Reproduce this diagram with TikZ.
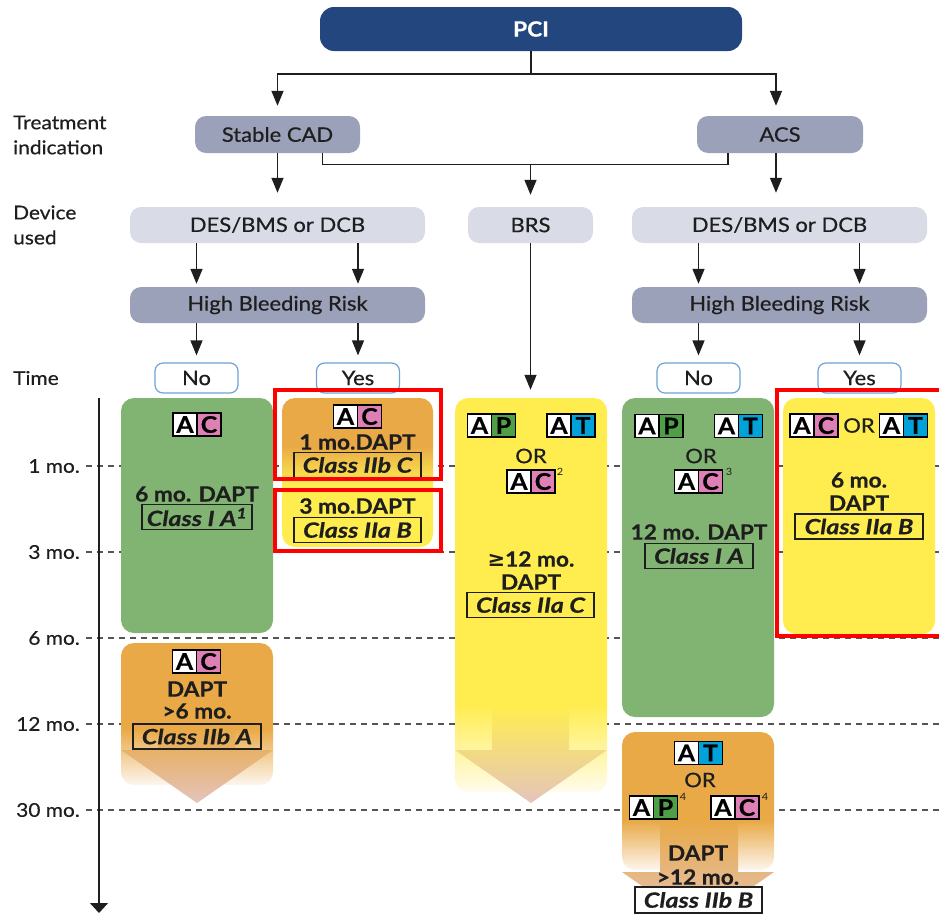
\documentclass[tikz,border=0pt]{standalone}
\usepackage{fontspec}
\setmainfont{Lato}[FakeStretch=1.1]
\newfontfamily\medfam{Lato}[FakeStretch=1.1, FakeBold=0.5]
\newfontfamily\heavyfam{Lato}[FakeStretch=1.08, FakeBold=0.6]
\newfontfamily\clsfam{Lato}[FakeStretch=1.2, FakeBold=0.5]
\newfontfamily\symf{DejaVu Sans}
\usetikzlibrary{arrows.meta,calc}
\definecolor{txt}{HTML}{1E1E1E}
\definecolor{pciblue}{HTML}{23467F}
\definecolor{greybox}{HTML}{9CA1BA}
\definecolor{lightbox}{HTML}{D9DBE7}
\definecolor{nyborder}{HTML}{6FA3D4}
\definecolor{dgreen}{HTML}{81B473}
\definecolor{dorange}{HTML}{E8A946}
\definecolor{dyellow}{HTML}{FFED50}
\definecolor{cpink}{HTML}{DE7FB5}
\definecolor{pgreen}{HTML}{4E9F45}
\definecolor{tcyan}{HTML}{00A2D9}
\definecolor{tippink}{HTML}{E4C4BC}
\definecolor{dashgray}{HTML}{555555}
\definecolor{fadey}{HTML}{FFFCEC}
\definecolor{fadeo}{HTML}{FDF6EE}
\pgfdeclareverticalshading{oyshade}{100bp}{color(0bp)=(dyellow); color(46bp)=(dyellow); color(59bp)=(dorange); color(100bp)=(dorange)}
\pgfdeclareverticalshading{yfade}{100bp}{color(0bp)=(white); color(25bp)=(fadey); color(36bp)=(dyellow); color(100bp)=(dyellow)}
\pgfdeclareverticalshading{ofadeL}{100bp}{color(0bp)=(white); color(25bp)=(fadeo); color(45bp)=(dorange); color(100bp)=(dorange)}
\pgfdeclareverticalshading{ofadeR}{100bp}{color(0bp)=(white); color(25bp)=(fadeo); color(43bp)=(dorange); color(100bp)=(dorange)}
\pgfdeclareverticalshading{arrL}{100bp}{color(0bp)=(tippink); color(25bp)=(tippink); color(51bp)=(dorange); color(100bp)=(dorange)}
\pgfdeclareverticalshading{arrM}{100bp}{color(0bp)=(tippink); color(25bp)=(tippink); color(58bp)=(dyellow); color(100bp)=(dyellow)}
\pgfdeclareverticalshading{arrR}{100bp}{color(0bp)=(tippink); color(25bp)=(tippink); color(61bp)=(dorange); color(100bp)=(dorange)}
\newcommand\sidef{\medfam\fontsize{19}{25}\selectfont}
\newcommand\lblf{\medfam\fontsize{20}{25}\selectfont}
\newcommand\orlf{\medfam\fontsize{20}{22}\selectfont}
\newcommand\bigf{\heavyfam\fontsize{21}{23}\selectfont\bfseries}
\newcommand\clsf{\clsfam\fontsize{21}{22}\selectfont\bfseries\itshape}
\newcommand\bdgf{\heavyfam\fontsize{23}{23}\selectfont\bfseries}
\newcommand\supf{\fontsize{10}{10}\selectfont}
\newcommand\pcif{\heavyfam\fontsize{21}{24}\selectfont\bfseries}
\begin{document}
\begin{tikzpicture}[x=1pt,y=-1pt,
  every node/.style={text=txt},
  conn/.style={line width=1.4pt, draw=txt},
  arr/.style={conn, -{Triangle[length=15pt,width=12pt]}},
  hdbox/.style={fill=greybox, rounded corners=11pt, minimum height=37pt, inner sep=0pt, font=\lblf},
  devbox/.style={fill=lightbox, rounded corners=11pt, minimum height=36pt, inner sep=0pt, font=\lblf},
  ynbox/.style={draw=nyborder, line width=1.2pt, fill=white, rounded corners=8pt, minimum width=83pt, minimum height=30pt, inner sep=0pt, font=\lblf},
  bigt/.style={font=\bigf, inner sep=0pt},
  orf/.style={font=\orlf, inner sep=0pt},
  cls/.style={draw=txt, line width=1.3pt, font=\clsf, minimum height=25pt, inner sep=0pt},
  supn/.style={font=\supf, inner sep=0pt},
  bcell/.style={draw=black, line width=1.2pt, minimum width=24pt, minimum height=23pt, inner sep=0pt, font=\bdgf, text=black},
  tickl/.style={anchor=east, font=\sidef, inner sep=0pt},
  tline/.style={dash pattern=on 6pt off 5pt, line width=1.2pt, draw=dashgray},
  redfr/.style={draw=red, line width=4pt},
  colbox/.style={rounded corners=13pt, minimum width=152pt, inner sep=0pt},
  pics/badge/.style 2 args={code={
    \node[bcell, fill=white] (-a) at (-12,0) {A};
    \node[bcell, fill=#1] (-b) at (12,0) {#2};}}
]
\useasboundingbox (0,0) rectangle (939,913);

% ---- side labels
\node[anchor=west, align=left, font=\sidef, inner sep=0pt] (lbltreat) at (13,135) {Treatment\\indication};
\node[anchor=west, align=left, font=\sidef, inner sep=0pt] (lbldev) at (13,225) {Device\\used};
\node[anchor=west, font=\sidef, inner sep=0pt] (lbltime) at (13,378) {Time};

% ---- time ticks and dashed lines
\node[tickl] (tk1) at (80,466) {1 mo.};
\node[tickl] (tk3) at (80,552) {3 mo.};
\node[tickl] (tk6) at (80,638) {6 mo.};
\node[tickl] (tk12) at (80,724) {12 mo.};
\node[tickl] (tk30) at (80,810) {30 mo.};
\foreach \nm in {tk1,tk3,tk6,tk12,tk30}{
  \draw[tline] ([xshift=6pt]\nm.east) -- (\nm.east -| 939,0);
}
\coordinate (axtop) at (99,398);
\coordinate (axbot) at (99,913);
\draw[line width=1.5pt, draw=txt, -{Triangle[length=10pt,width=18pt]}] (axtop) -- (axbot);

% ---- top flow
\node[fill=pciblue, rounded corners=14pt, minimum width=422pt, minimum height=44pt, inner sep=0pt, text=white, font=\pcif] (pci) at (531,29) {PCI};
\node[hdbox, minimum width=165pt] (stable) at (277.5,134.5) {Stable CAD};
\node[hdbox, minimum width=166pt] (acs) at (780,134.5) {ACS};
\node[devbox, minimum width=295pt] (desL) at (277.5,225) {DES/BMS or DCB};
\node[devbox, minimum width=125pt] (brs) at (530.5,225) {BRS};
\node[devbox, minimum width=295pt] (desR) at (779.5,225) {DES/BMS or DCB};
\node[hdbox, minimum width=295pt, minimum height=36pt] (hbrL) at (277.5,305) {High Bleeding Risk};
\node[hdbox, minimum width=295pt, minimum height=36pt] (hbrR) at (779.5,305) {High Bleeding Risk};
\node[ynbox] (noL) at (196.5,378) {No};
\node[ynbox] (yesL) at (358,378) {Yes};
\node[ynbox] (noR) at (698.5,378) {No};
\node[ynbox] (yesR) at (859.5,378) {Yes};

\coordinate (pcij) at (531,74);
\draw[conn] (pci.south) -- (pcij);
\draw[arr, shorten >=10pt] (pcij) -| (stable.north);
\draw[arr, shorten >=10pt] (pcij) -| ([xshift=-4pt]acs.north);
\draw[arr, shorten >=14pt] (stable.south) -- (desL.north);
\draw[arr, shorten >=14pt] ([xshift=-4pt]acs.south) -- ([xshift=-4pt]acs.south |- desR.north);
\coordinate (brsj) at ($(brs.north)+(0,-43)$);
\draw[conn] ($(stable.south east)+(-38,0)$) |- ($(acs.south west)+(31,11)$) -- ($(acs.south west)+(31,0)$);
\draw[arr, shorten >=12pt] (brsj) -- (brs.north);
\foreach \tg/\src/\dst in {noL/desL/hbrL, yesL/desL/hbrL, noR/desR/hbrR, yesR/desR/hbrR}{
  \draw[arr, shorten >=3pt] (\src.south -| \tg.north) -- (\dst.north -| \tg.north);
  \draw[arr, shorten >=7pt] (\dst.south -| \tg.north) -- (\tg.north);
}

% ---- column boxes
\node[colbox, fill=dgreen, minimum height=235pt] (gL) at (197,515.5) {};
\node[colbox, shading=oyshade, minimum width=151pt, minimum height=149pt] (oyL) at (357.5,472.5) {};
\node[colbox, shading=yfade, minimum height=394pt] (yM) at (531,595) {};
\node[colbox, fill=dgreen, minimum height=319pt] (gR) at (698,557.5) {};
\node[colbox, fill=dyellow, minimum height=236pt] (yR) at (859,516) {};
\node[colbox, shading=ofadeL, minimum height=142pt] (oL) at (197,714) {};
\node[colbox, shading=ofadeR, minimum height=138pt] (oR) at (698,801) {};

\draw[arr, shorten >=8pt] (brs.south) -- (brs.south |- yM.north);

% ---- background arrows
\shade[shading=arrL] (158,658) -- (235,658) -- (235,750) -- (273,750) -- (197,803) -- (121,750) -- (158,750) -- cycle;
\shade[shading=arrM] (492,658) -- (569,658) -- (569,750) -- (607,750) -- (531,803) -- (455,750) -- (492,750) -- cycle;
\shade[shading=arrR] (660,780) -- (738,780) -- (738,872) -- (774,872) -- (698,925) -- (622,872) -- (660,872) -- cycle;

% ---- left green (stable, no HBR)
\pic (bgl) at (197,424.5) {badge={cpink}{C}};
\node[bigt] (gLt) at (197,494) {6 mo. DAPT};
\node[cls, minimum width=110pt] (gLc) at (197,517) {Class I A\textsuperscript{1}};

% ---- orange/yellow (stable, HBR)
\pic (boy) at (357.5,416.5) {badge={cpink}{C}};
\node[bigt] (oyt1) at (357.5,442) {1 mo.DAPT};
\node[cls, minimum width=127pt] (oyc1) at (357.5,465) {Class IIb C};
\node[bigt] (oyt2) at (357.5,506) {3 mo.DAPT};
\node[cls, minimum width=127pt] (oyc2) at (357.5,530) {Class IIa B};

% ---- BRS column
\pic (bm1) at (491.5,425.5) {badge={pgreen}{P}};
\pic (bm2) at (571,425.5) {badge={tcyan}{T}};
\node[orf] (mor) at (531,456) {OR};
\pic (bm3) at (531,481.5) {badge={cpink}{C}};
\node[supn] (ms2) at (560,472) {2};
\node[bigt] (mt1) at (531,559) {{\symf\bfseries ≥}12 mo.};
\node[bigt] (mt2) at (531,582) {DAPT};
\node[cls, minimum width=127pt] (mc) at (530.5,605) {Class IIa C};

% ---- right green (ACS, no HBR)
\pic (br1) at (659,426) {badge={pgreen}{P}};
\pic (br2) at (738.5,426) {badge={tcyan}{T}};
\node[orf] (ror) at (701,456) {OR};
\pic (br3) at (698.5,481.5) {badge={cpink}{C}};
\node[supn] (rs3) at (729,472) {3};
\node[bigt] (rt) at (699,532) {12 mo. DAPT};
\node[cls, minimum width=108pt] (rc) at (699,556) {Class I A};

% ---- right yellow (ACS, HBR)
\pic (by1) at (814,425.5) {badge={cpink}{C}};
\node[orf] (yor) at (859,425.5) {OR};
\pic (by2) at (903.5,425.5) {badge={tcyan}{T}};
\node[bigt] (yt1) at (859,480) {6 mo.};
\node[bigt] (yt2) at (859,503) {DAPT};
\node[cls, minimum width=128pt] (yc) at (859,526.5) {Class IIa B};

% ---- left orange (>6 mo)
\pic (bo1) at (196.5,661.5) {badge={cpink}{C}};
\node[bigt] (ot1) at (197,689) {DAPT};
\node[bigt] (ot2) at (197,711) {>6 mo.};
\node[cls, minimum width=128pt] (oc) at (197,736.5) {Class IIb A};

% ---- bottom right orange (>12 mo)
\pic (bb1) at (698.5,753) {badge={tcyan}{T}};
\node[orf] (bor) at (700,780) {OR};
\pic (bb2) at (653.5,807.5) {badge={pgreen}{P}};
\node[supn] (bs1) at (683,797) {4};
\pic (bb3) at (735,807.5) {badge={cpink}{C}};
\node[supn] (bs2) at (765,797) {4};
\node[bigt] (bt1) at (698,853) {DAPT};
\node[bigt] (bt2) at (698,877) {>12 mo.};
\node[cls, fill=white, minimum width=127pt, minimum height=26pt] (bc) at (698.5,900) {Class IIb B};

% ---- red frames
\draw[redfr] (275,390) rectangle (441,479);
\draw[redfr] (275,490) rectangle (441,551);
\draw[redfr] (777,390) rectangle (945,636);
\end{tikzpicture}
\end{document}
